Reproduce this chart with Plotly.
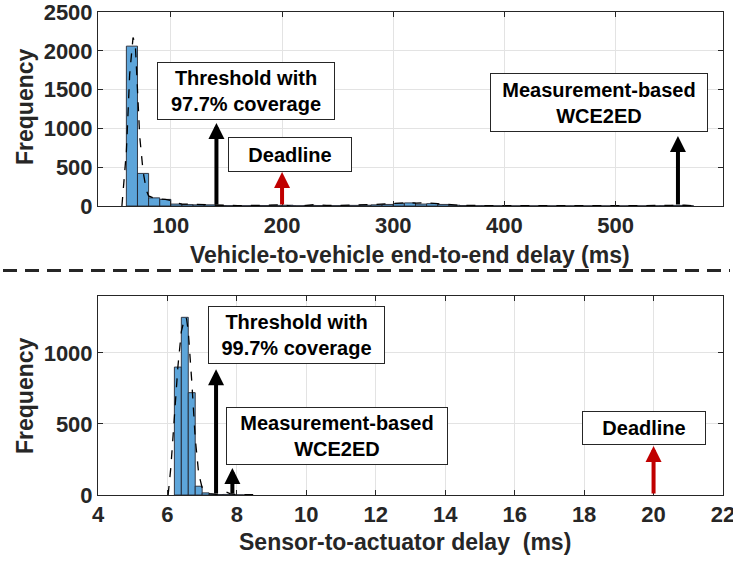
import plotly.graph_objects as go

W, H = 733, 561

# ---------------- Top panel data: vehicle-to-vehicle end-to-end delay (ms)
v2v_bin_width = 10
v2v_bin_centers = [65, 75, 85, 95, 105, 115, 125, 135, 145, 155, 165, 175, 185, 195,
                   205, 215, 225, 235, 245, 255, 265, 275, 285, 295, 305, 315, 325,
                   335, 345, 355, 365, 375, 385, 395, 405, 415, 425, 435, 445, 455,
                   465, 475, 485, 495, 505, 515, 525, 535, 545, 555, 565]
v2v_counts = [2060, 420, 105, 85, 25, 18, 15, 15, 6, 5, 4, 4, 6, 8,
              10, 4, 8, 6, 5, 5, 8, 10, 15, 20, 30, 40, 25,
              30, 20, 10, 6, 4, 4, 3, 2, 2, 2, 2, 2, 2,
              2, 2, 2, 2, 2, 2, 2, 3, 4, 8, 3]
v2v_curve_x = [56, 60, 63, 66, 68, 70, 72, 75, 78, 80, 85, 90, 95, 100, 105, 110, 120,
               130, 140, 150, 160, 180, 200, 205, 210, 220, 230, 240, 250, 260, 280,
               290, 300, 310, 320, 330, 340, 350, 360, 380, 400, 450, 500, 540, 555,
               562, 570, 575]
v2v_curve_y = [0, 700, 1700, 2170, 2100, 1500, 900, 450, 200, 130, 100, 90, 85, 70, 40,
               25, 20, 22, 18, 8, 5, 8, 15, 5, -8, 5, 18, 8, 5, 10, 18, 25, 40, 42, 38,
               40, 30, 20, 10, 5, 3, 3, 3, 5, 12, 10, 3, 0]
v2v_threshold = 141      # 97.7% coverage
v2v_deadline = 200
v2v_wce2ed = 556
v2v_xticks = [100, 200, 300, 400, 500]
v2v_yticks = [0, 500, 1000, 1500, 2000, 2500]

# ---------------- Bottom panel data: sensor-to-actuator delay (ms)
s2a_bin_width = 0.2
s2a_bin_centers = [6.3, 6.5, 6.7, 6.9, 7.1, 7.3, 7.5, 7.7, 7.9, 8.1]
s2a_counts = [900, 1250, 720, 62, 15, 6, 3, 4, 2, 1]
s2a_curve_x = [6.02, 6.1, 6.2, 6.3, 6.4, 6.5, 6.55, 6.6, 6.7, 6.8, 6.9, 7.0, 7.1, 7.2,
               7.4, 7.6, 7.7, 7.8, 8.0, 8.2, 8.5]
s2a_curve_y = [0, 200, 550, 900, 1150, 1250, 1240, 1150, 800, 400, 150, 50, 20, 10,
               5, 10, 20, 10, 3, 2, 2]
s2a_threshold = 7.40     # 99.7% coverage
s2a_wce2ed = 7.87
s2a_deadline = 20
s2a_xticks = [4, 6, 8, 10, 12, 14, 16, 18, 20, 22]
s2a_yticks = [0, 500, 1000]

FONT = "Liberation Sans"
DARK = "#262626"
BAR = "#5DA5DA"
RED = "#C00000"


def px_x(p):
    return p / W


def px_y(p):
    return 1 - p / H


fig = go.Figure()

fig.add_trace(go.Bar(x=v2v_bin_centers, y=v2v_counts, width=v2v_bin_width,
                     marker=dict(color=BAR, line=dict(color="rgba(30,30,40,0.85)", width=1)),
                     xaxis="x", yaxis="y", showlegend=False))
fig.add_trace(go.Scatter(x=v2v_curve_x, y=v2v_curve_y, mode="lines",
                         line=dict(color="black", width=1.3, dash="dash"),
                         xaxis="x", yaxis="y", showlegend=False))
fig.add_trace(go.Bar(x=s2a_bin_centers, y=s2a_counts, width=s2a_bin_width,
                     marker=dict(color=BAR, line=dict(color="rgba(30,30,40,0.85)", width=1)),
                     xaxis="x2", yaxis="y2", showlegend=False))
fig.add_trace(go.Scatter(x=s2a_curve_x, y=s2a_curve_y, mode="lines",
                         line=dict(color="black", width=1.3, dash="dash"),
                         xaxis="x2", yaxis="y2", showlegend=False))

axis_common = dict(ticks="inside", ticklen=5, tickcolor=DARK, showline=True,
                   linecolor=DARK, linewidth=1, mirror="ticks", showgrid=True,
                   gridcolor="#e3e3e3", gridwidth=1, zeroline=False, automargin=False,
                   ticklabeloverflow="allow",
                   tickfont=dict(family=FONT, size=22, color=DARK, weight="bold"))

xdom = [px_x(98), px_x(723)]
fig.update_layout(
    template="none",
    width=W, height=H, margin=dict(l=0, r=0, t=0, b=0, autoexpand=False),
    paper_bgcolor="white", plot_bgcolor="white", barmode="overlay", showlegend=False,
    xaxis=dict(domain=xdom, anchor="y", range=[34.5, 596.5], tickvals=v2v_xticks, **axis_common),
    yaxis=dict(domain=[px_y(206), px_y(12)], anchor="x", range=[0, 2500], tickvals=v2v_yticks, **axis_common),
    xaxis2=dict(domain=xdom, anchor="y2", range=[4, 22], tickvals=s2a_xticks, **axis_common),
    yaxis2=dict(domain=[px_y(495), px_y(296)], anchor="x2", range=[0, 1400], tickvals=s2a_yticks, **axis_common),
)

ann = []
label_font = dict(family=FONT, size=23, color=DARK, weight="bold")
ann.append(dict(text="Vehicle-to-vehicle end-to-end delay (ms)", x=px_x(410), y=px_y(255),
                xref="paper", yref="paper", showarrow=False, font=label_font,
                xanchor="center", yanchor="middle"))
ann.append(dict(text="Sensor-to-actuator delay  (ms)", x=px_x(405), y=px_y(542),
                xref="paper", yref="paper", showarrow=False, font=label_font,
                xanchor="center", yanchor="middle"))
ann.append(dict(text="Frequency", x=px_x(25), y=px_y(107), textangle=-90,
                xref="paper", yref="paper", showarrow=False, font=label_font,
                xanchor="center", yanchor="middle"))
ann.append(dict(text="Frequency", x=px_x(25), y=px_y(396), textangle=-90,
                xref="paper", yref="paper", showarrow=False, font=label_font,
                xanchor="center", yanchor="middle"))


def arrow(xa, ya, x, tip, color):
    ann.append(dict(text="", x=x, y=tip, ax=x, ay=0, xref=xa, yref=ya, axref=xa, ayref=ya,
                    showarrow=True, arrowhead=2, arrowsize=0.8, arrowwidth=4,
                    arrowcolor=color, standoff=0))


arrow("x", "y", v2v_threshold, 1070, "black")
arrow("x", "y", v2v_deadline, 438, RED)
arrow("x", "y", v2v_wce2ed, 902, "black")
arrow("x2", "y2", s2a_threshold, 885, "black")
arrow("x2", "y2", s2a_wce2ed, 190, "black")
arrow("x2", "y2", s2a_deadline, 345, RED)


def box(text, x0, x1, y0, y1):
    ann.append(dict(text=text, x=px_x((x0 + x1) / 2), y=px_y((y0 + y1) / 2),
                    xref="paper", yref="paper", showarrow=False,
                    xanchor="center", yanchor="middle",
                    width=x1 - x0 - 2, height=y1 - y0 - 2, borderpad=0,
                    bordercolor=DARK, borderwidth=1, bgcolor="white",
                    font=dict(family=FONT, size=20, color="black", weight="bold")))


box("Threshold with<br>97.7% coverage", 157, 335, 62, 120)
box("Deadline", 228, 352, 137, 172)
box("Measurement-based<br>WCE2ED", 490, 708, 73, 132)
box("Threshold with<br>99.7% coverage", 208, 385, 306, 364)
box("Measurement-based<br>WCE2ED", 226, 448, 407, 465)
box("Deadline", 582, 706, 411, 445)

fig.update_layout(annotations=ann)

fig.add_shape(type="line", xref="paper", yref="paper", x0=px_x(3), x1=px_x(730),
              y0=px_y(270.5), y1=px_y(270.5),
              line=dict(color=DARK, width=3, dash="14px,8px"))

fig.write_html("out.html", config={"displayModeBar": False},
               post_script="document.body.style.margin='0px';"
                           "document.body.style.overflow='hidden';")
